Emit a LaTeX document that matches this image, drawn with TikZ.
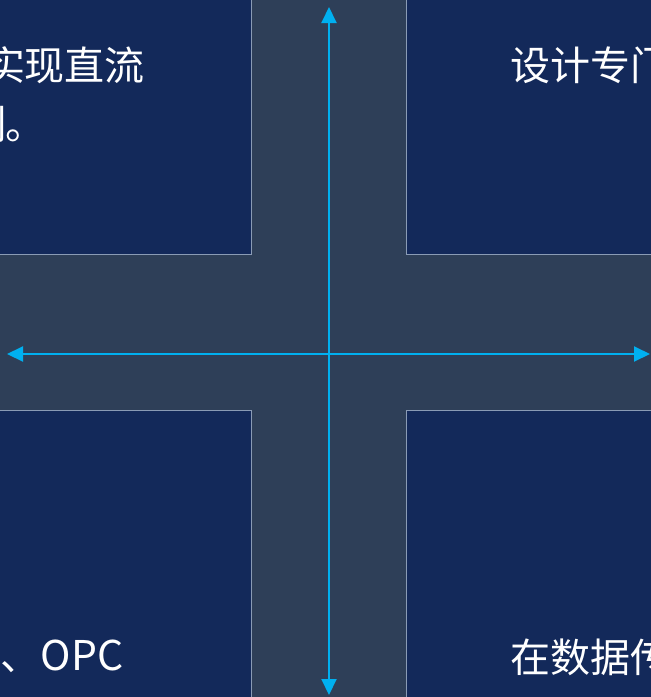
\documentclass[tikz,border=0pt]{standalone}
\usepackage{fontspec}
\newfontfamily\cjk{Noto Sans CJK SC}
\usetikzlibrary{arrows.meta}
\definecolor{bgslate}{HTML}{2E3F58}
\definecolor{boxblue}{HTML}{13295A}
\definecolor{boxedge}{HTML}{8A9BB5}
\definecolor{arrowblue}{HTML}{00B0F0}
\tikzset{
  panel/.style={fill=boxblue, draw=boxedge, line width=1pt},
  label/.style={anchor=base west, inner sep=0pt, outer sep=0pt, text=white, font=\cjk\fontsize{40}{48}\selectfont},
  axis/.style={draw=arrowblue, line width=2pt, {Triangle[length=16pt,width=15pt]}-{Triangle[length=16pt,width=15pt]}}
}
\begin{document}
\begin{tikzpicture}[x=1pt,y=-1pt]
\useasboundingbox (0,0) rectangle (651,697);
\clip (0,0) rectangle (651,697);
\fill[bgslate] (0,0) rectangle (651,697);
\draw[panel] (-10,-10) rectangle (251,254.5);
\draw[panel] (406.5,-10) rectangle (661,254.5);
\draw[panel] (-10,410.5) rectangle (251,707);
\draw[panel] (406.5,410.5) rectangle (661,707);
\node[label] (tl1) at (-15,80) {实现直流};
\node[label] (tl2) at (-34,139) {制。};
\node[label] (tr1) at (510,80) {设计专门};
\node[label] (bl1) at (1,670) {、\fontsize{41}{48}\selectfont OPC};
\node[label] (br1) at (510,672) {在数据传};
\coordinate (vtop) at (329,7);
\coordinate (vbot) at (329,695);
\coordinate (hleft) at (7,354);
\coordinate (hright) at (650,354);
\draw[axis] (vbot) -- (vtop);
\draw[axis] (hleft) -- (hright);
\end{tikzpicture}
\end{document}
